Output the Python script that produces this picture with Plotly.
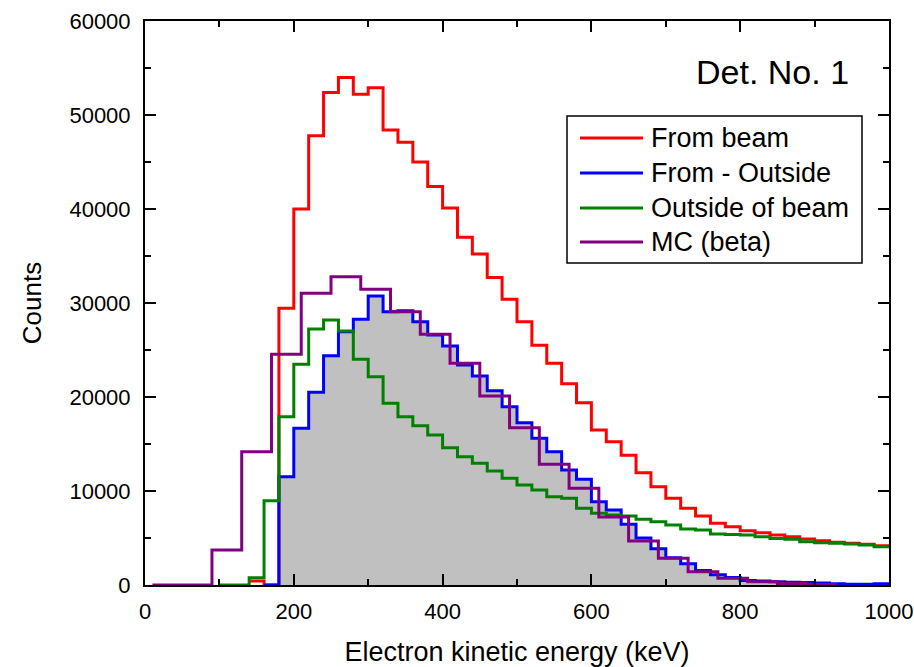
import plotly.graph_objects as go

# ---- data (bin left edges in keV, counts per bin) ----
red_edges = list(range(140, 1001, 20))
red_counts = [425, 0, 29440, 40000, 47800, 52400, 54000, 52200, 52900, 48400,
              47100, 45000, 42400, 40100, 37000, 35200, 32700, 30400, 28000, 25500,
              23600, 21400, 19400, 16500, 15250, 13800, 11950, 10460, 9220, 8160,
              7340, 6560, 6200, 5780, 5570, 5320, 5140, 4890, 4710, 4540,
              4430, 4330, 4180]

blue_edges = list(range(160, 1001, 20))
blue_counts = [0, 11520, 16670, 20500, 24390, 26950, 28260, 30740, 29080, 29180,
               28010, 26600, 25430, 23400, 22230, 20670, 18970, 17270, 15600, 14180,
               12230, 11240, 8860, 7980, 6470, 5000, 3850, 2900, 2250, 1550,
               1100, 800, 480, 420, 350, 280, 260, 200, 120, 80, 90, 120]

green_edges = list(range(100, 1001, 20))
green_counts = [0, 0, 780, 8970, 17900, 23480, 27230, 28190, 27020, 24010,
                22160, 19330, 17900, 16950, 15960, 14610, 13650, 12940, 12130, 11350,
                10640, 10110, 9400, 9220, 8160, 7630, 7450, 7340, 6990, 6740,
                6380, 5960, 5850, 5430, 5380, 5320, 5140, 4960, 4860, 4610,
                4500, 4430, 4360, 4250, 4070]

purple_edges = list(range(10, 931, 40))
purple_counts = [0, 0, 3720, 14180, 24540, 31030, 32800, 31450, 29080, 26670,
                 23580, 20100, 16740, 12840, 10290, 7240, 4680, 2840, 1420, 710,
                 350, 150, 50]

names = ["From beam", "From - Outside", "Outside of beam", "MC (beta)"]
colors = ["#ff0000", "#0000ff", "#008000", "#800080"]

FONT = "Liberation Sans, Arial"

# layout geometry (pixels)
W, H = 914, 667
ML, MR, MT, MB = 145, 25, 21, 82
PW, PH = W - ML - MR, H - MT - MB


def px_to_paper(px, py):
    return (px - ML) / PW, (H - MB - py) / PH


def step_xy(edges, counts):
    # left edges + final right edge; last value repeated for 'hv' stepping
    return list(edges), list(counts) + [counts[-1]]


fig = go.Figure()

bx, by = step_xy(blue_edges, blue_counts)
fig.add_trace(go.Scatter(x=bx, y=by, mode="lines", line=dict(shape="hv", width=0, color="#c0c0c0"),
                         fill="tozeroy", fillcolor="#c0c0c0", showlegend=False, hoverinfo="skip"))

series = [
    (red_edges, red_counts, 0),
    (blue_edges, blue_counts, 1),
    (green_edges, green_counts, 2),
    (purple_edges, purple_counts, 3),
]
for edges, counts, i in series:
    x, y = step_xy(edges, counts)
    fig.add_trace(go.Scatter(x=x, y=y, mode="lines", name=names[i],
                             line=dict(shape="hv", width=3, color=colors[i]),
                             showlegend=False))

axis_common = dict(
    showline=True, linecolor="black", linewidth=2, mirror="allticks",
    ticks="inside", ticklen=11, tickwidth=2, tickcolor="black",
    showgrid=False, zeroline=False, automargin=False,
    tickfont=dict(family=FONT, size=22, color="black"),
)

fig.update_xaxes(range=[0, 1000], dtick=200, tick0=0,
                 minor=dict(dtick=100, ticks="inside", ticklen=6, tickwidth=2, tickcolor="black", showgrid=False),
                 title=dict(text="Electron kinetic energy (keV)", standoff=25,
                            font=dict(family=FONT, size=27, color="black")),
                 ticklabelstandoff=6,
                 **axis_common)
fig.update_yaxes(range=[0, 60000], dtick=10000, tick0=0, tickformat="d",
                 minor=dict(dtick=5000, ticks="inside", ticklen=6, tickwidth=2, tickcolor="black", showgrid=False),
                 title=dict(text="Counts", standoff=20,
                            font=dict(family=FONT, size=26, color="black")),
                 ticklabelstandoff=8,
                 **axis_common)

# annotation
ax_, ay_ = px_to_paper(851, 72)
fig.add_annotation(text="Det. No. 1", xref="paper", yref="paper", x=ax_, y=ay_,
                   xanchor="right", yanchor="middle", showarrow=False,
                   font=dict(family=FONT, size=34, color="black"))

# legend box (drawn manually to match the reference proportions)
x0, y0 = px_to_paper(567, 263)
x1, y1 = px_to_paper(862, 116)
fig.add_shape(type="rect", xref="paper", yref="paper", x0=x0, y0=y0, x1=x1, y1=y1,
              line=dict(color="black", width=1.5), fillcolor="white", layer="above")
row_y = [138, 173, 208, 242]
for i, name in enumerate(names):
    lx0, ly = px_to_paper(580, row_y[i])
    lx1, _ = px_to_paper(643, row_y[i])
    tx, _ = px_to_paper(649, row_y[i])
    fig.add_shape(type="line", xref="paper", yref="paper", x0=lx0, x1=lx1, y0=ly, y1=ly,
                  line=dict(color=colors[i], width=3), layer="above")
    fig.add_annotation(text=name, xref="paper", yref="paper", x=tx, y=ly,
                       xanchor="left", yanchor="middle", showarrow=False,
                       font=dict(family=FONT, size=27, color="black"))

fig.update_layout(
    width=W, height=H,
    margin=dict(l=ML, r=MR, t=MT, b=MB),
    plot_bgcolor="white", paper_bgcolor="white",
    showlegend=False,
)

fig.write_html("out.html")
